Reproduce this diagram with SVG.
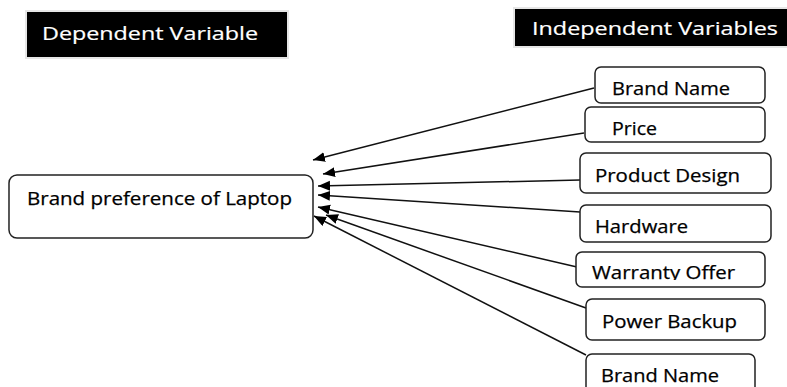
<svg xmlns="http://www.w3.org/2000/svg" width="787" height="387" viewBox="0 0 787 387">
<style>
.box{fill:#fff;stroke:#222;stroke-width:1.5}
.hdr{fill:#000;stroke:#e6e6e6;stroke-width:2}
.t{font-family:"Open Sans","Noto Sans","Liberation Sans",sans-serif;font-size:17.5px;fill:#000;stroke:#000;stroke-width:0.25}
.h{font-family:"Open Sans","Noto Sans","Liberation Sans",sans-serif;font-size:18.5px;fill:#fff;stroke:#fff;stroke-width:0.2}
.c{stroke:#111;stroke-width:1.5;fill:none;marker-end:url(#ah)}
</style>
<defs>
<marker id="ah" markerUnits="userSpaceOnUse" markerWidth="13" markerHeight="11" refX="12" refY="5" orient="auto">
<path d="M0,0 L12,5 L0,10 z" fill="#000"/>
</marker>
<clipPath id="wclip"><rect x="576" y="252" width="190" height="28"/></clipPath>
</defs>
<g id="dep-header">
<rect class="hdr" x="26" y="11" width="262" height="47"/>
<text class="h" x="42" y="40" textLength="216" lengthAdjust="spacingAndGlyphs">Dependent Variable</text>
</g>
<g id="indep-header">
<rect class="hdr" x="514" y="8" width="280" height="39"/>
<text class="h" x="532" y="35" textLength="246" lengthAdjust="spacingAndGlyphs">Independent Variables</text>
</g>
<g id="connectors">
<line class="c" x1="594" y1="88" x2="313" y2="160"/>
<line class="c" x1="584" y1="133" x2="323" y2="174"/>
<line class="c" x1="580" y1="180" x2="318" y2="186"/>
<line class="c" x1="580" y1="212" x2="318" y2="195"/>
<line class="c" x1="577" y1="267" x2="318" y2="207"/>
<line class="c" x1="586" y1="308" x2="326" y2="215"/>
<line class="c" x1="586" y1="355" x2="314" y2="216"/>
</g>
<g id="target">
<rect class="box" x="9" y="175" width="304" height="63" rx="8"/>
<text class="t" x="27" y="205" textLength="265" lengthAdjust="spacingAndGlyphs">Brand preference of Laptop</text>
</g>
<g id="brand-name-1">
<rect class="box" x="595" y="67" width="170" height="36" rx="6"/>
<text class="t" x="612" y="95" textLength="118" lengthAdjust="spacingAndGlyphs">Brand Name</text>
</g>
<g id="price">
<rect class="box" x="585" y="107" width="180" height="35" rx="6"/>
<text class="t" x="612" y="135" textLength="45" lengthAdjust="spacingAndGlyphs">Price</text>
</g>
<g id="product-design">
<rect class="box" x="580" y="153" width="191" height="40" rx="6"/>
<text class="t" x="595" y="182" textLength="145" lengthAdjust="spacingAndGlyphs">Product Design</text>
</g>
<g id="hardware">
<rect class="box" x="580" y="205" width="191" height="37" rx="6"/>
<text class="t" x="595" y="233" textLength="93" lengthAdjust="spacingAndGlyphs">Hardware</text>
</g>
<g id="warranty-offer">
<rect class="box" x="576" y="252" width="189" height="35" rx="6"/>
<text class="t" x="592" y="279" textLength="143" lengthAdjust="spacingAndGlyphs" clip-path="url(#wclip)">Warranty Offer</text>
</g>
<g id="power-backup">
<rect class="box" x="586" y="299" width="179" height="41" rx="6"/>
<text class="t" x="602" y="328" textLength="135" lengthAdjust="spacingAndGlyphs">Power Backup</text>
</g>
<g id="brand-name-2">
<rect class="box" x="586" y="354" width="169" height="45" rx="6"/>
<text class="t" x="601" y="382" textLength="118" lengthAdjust="spacingAndGlyphs">Brand Name</text>
</g>
</svg>
